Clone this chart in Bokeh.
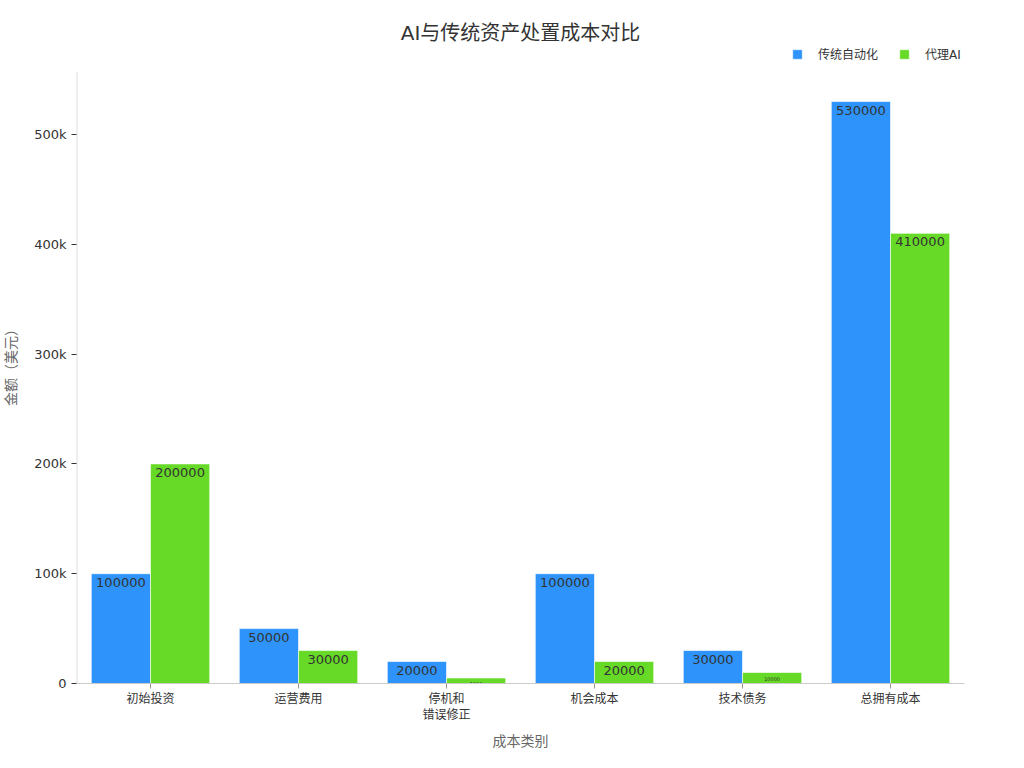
from bokeh.plotting import figure
from bokeh.models import ColumnDataSource, Legend, LegendItem, NumeralTickFormatter, SingleIntervalTicker, Range1d
from bokeh.transform import dodge
from bokeh.core.properties import value
from bokeh.embed import file_html
from bokeh.resources import INLINE

categories = ["初始投资", "运营费用", "停机和\n错误修正", "机会成本", "技术债务", "总拥有成本"]
traditional = [100000, 50000, 20000, 100000, 30000, 530000]
agent_ai = [200000, 30000, 5000, 20000, 10000, 410000]
series_names = ["传统自动化", "代理AI"]

FONT = "DejaVu Sans, Noto Sans CJK SC"
BLUE = "#2E93FA"
GREEN = "#66DA26"
Y_AXIS_TOP = 557000   # top of the drawn value axis
Y_VIEW_TOP = 582000   # extra room so the legend sits inside the frame

src = ColumnDataSource(data=dict(
    cat=categories,
    trad=traditional,
    ai=agent_ai,
    trad_lbl=[str(v) for v in traditional],
    ai_lbl=[str(v) for v in agent_ai],
    trad_fs=["13px" if v > 15000 else "5px" for v in traditional],
    ai_fs=["13px" if v > 15000 else "5px" for v in agent_ai],
))

p = figure(x_range=categories, y_range=Range1d(0, Y_VIEW_TOP), width=1008, height=752,
           output_backend="svg", toolbar_location=None, tools="",
           min_border_left=67, min_border_right=44, min_border_top=44, min_border_bottom=10)

r1 = p.vbar(x=dodge("cat", -0.2, range=p.x_range), top="trad", width=0.4, source=src,
            fill_color=BLUE, line_color="white", line_alpha=0.6, line_width=1)
r2 = p.vbar(x=dodge("cat", 0.2, range=p.x_range), top="ai", width=0.4, source=src,
            fill_color=GREEN, line_color="white", line_alpha=0.6, line_width=1)

p.text(x=dodge("cat", -0.2, range=p.x_range), y="trad", text="trad_lbl", source=src,
       text_align="center", text_baseline="top", y_offset=4, text_font_size="trad_fs",
       text_color="#333333", text_font=value(FONT))
p.text(x=dodge("cat", 0.2, range=p.x_range), y="ai", text="ai_lbl", source=src,
       text_align="center", text_baseline="top", y_offset=4, text_font_size="ai_fs",
       text_color="#333333", text_font=value(FONT))

# left axis line, drawn only up to the axis top
p.segment(x0=[0], y0=[0], x1=[0], y1=[Y_AXIS_TOP], line_color="#dddddd", line_width=2)

p.title.text = "AI与传统资产处置成本对比"
p.title.align = "center"
p.title.text_font = FONT
p.title.text_font_size = "20px"
p.title.text_font_style = "normal"
p.title.text_color = "#333333"
p.title.standoff = 0

legend = Legend(items=[LegendItem(label=series_names[0], renderers=[r1]),
                       LegendItem(label=series_names[1], renderers=[r2])],
                orientation="horizontal", location=(715, 621),
                label_text_font=FONT, label_text_font_size="12px", label_text_color="#333333",
                glyph_width=12, glyph_height=12, label_standoff=15, spacing=20,
                border_line_color=None, background_fill_alpha=0, margin=0, padding=2)
p.add_layout(legend, "center")

p.xgrid.grid_line_color = None
p.ygrid.grid_line_color = None
p.outline_line_color = None

p.yaxis.ticker = SingleIntervalTicker(interval=100000)
p.yaxis.formatter = NumeralTickFormatter(format="0a")
p.yaxis.axis_label = "金额（美元）"
p.xaxis.axis_label = "成本类别"
for ax in (p.xaxis, p.yaxis):
    ax.axis_label_text_font = FONT
    ax.axis_label_text_font_size = "14px"
    ax.axis_label_text_font_style = "normal"
    ax.axis_label_text_color = "#666666"
    ax.major_label_text_font = FONT
    ax.major_label_text_font_size = "12px"
    ax.major_label_text_color = "#333333"
    ax.minor_tick_line_color = None
p.yaxis.major_label_text_font_size = "13px"
p.yaxis.axis_line_color = None
p.yaxis.major_tick_line_color = "#333333"
p.yaxis.major_tick_in = 0
p.yaxis.major_tick_out = 5
p.yaxis.axis_label_standoff = 12
p.xaxis.axis_line_color = "#cccccc"
p.xaxis.major_tick_line_color = "#999999"
p.xaxis.major_tick_in = 0
p.xaxis.major_tick_out = 5
p.xaxis.major_label_standoff = 3
p.xaxis.axis_label_standoff = 8

open("out.html", "w").write(file_html(p, INLINE))
